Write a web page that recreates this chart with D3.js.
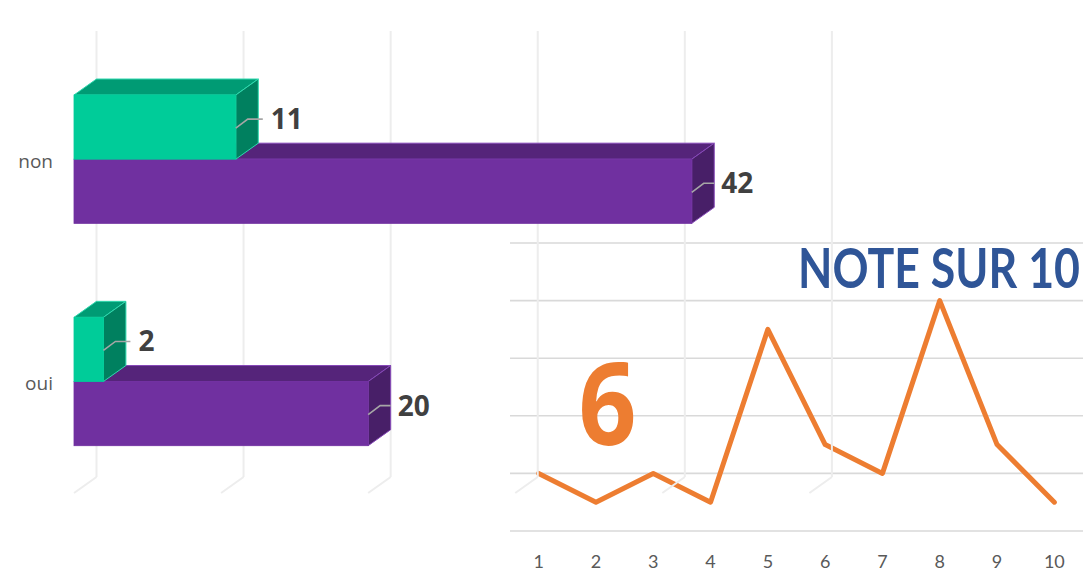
<!DOCTYPE html>
<html><head><meta charset="utf-8">
<script src="https://cdn.jsdelivr.net/npm/d3@7"></script>
<style>html,body{margin:0;padding:0;background:#fff;} svg{display:block;}</style>
</head><body>
<svg id="chart" width="1088" height="571"></svg>
<script>
// ---- bar chart data ----
const categories = ["non", "oui"];
const seriesGreen = [11, 2];
const seriesPurple = [42, 20];
const barTicks = [0, 10, 20, 30, 40, 50];

// ---- line chart data ----
const notes = ["1", "2", "3", "4", "5", "6", "7", "8", "9", "10"];
const counts = [2, 1, 2, 1, 7, 3, 2, 8, 3, 1];
const lineTicks = [0, 2, 4, 6, 8, 10];
const lineTitle = "NOTE SUR 10";

const svg = d3.select("#chart");
svg.append("rect").attr("width", 1088).attr("height", 571).attr("fill", "#ffffff");

// ================= LINE CHART =================
const lx = d3.scaleBand().domain(notes).range([510, 1083]);
const ly = d3.scaleLinear().domain([0, 10]).range([531, 243]);
const lg = svg.append("g");

lg.selectAll("line.hgrid").data(lineTicks).join("line")
  .attr("class", "hgrid")
  .attr("x1", 510).attr("x2", 1083)
  .attr("y1", d => ly(d)).attr("y2", d => ly(d))
  .attr("stroke", "#d9d9d9").attr("stroke-width", 1.6);

const xAxis = lg.append("g").attr("transform", "translate(0,531)")
  .call(d3.axisBottom(lx).tickSize(0).tickPadding(24));
xAxis.select(".domain").remove();
xAxis.selectAll("text")
  .attr("font-family", "Lato, 'Open Sans', sans-serif")
  .attr("font-size", 18).attr("fill", "#595959");

// mean note
const meanNote = Math.round(d3.sum(counts, (c, i) => c * (+notes[i])) / d3.sum(counts));
lg.append("text")
  .attr("x", 607.5).attr("y", 445)
  .attr("text-anchor", "middle")
  .attr("font-family", "'Open Sans', sans-serif")
  .attr("font-weight", "bold")
  .attr("font-size", 115)
  .attr("textLength", 58).attr("lengthAdjust", "spacingAndGlyphs")
  .attr("fill", "#ED7D31")
  .text(meanNote);

const titleG = lg.append("g");
const titleT = titleG.append("text")
  .attr("x", 0).attr("y", 0)
  .attr("text-anchor", "end")
  .attr("font-family", "Lato, 'Open Sans', sans-serif")
  .attr("font-weight", "bold")
  .attr("font-size", 55)
  .attr("fill", "#2F5597")
  .text(lineTitle);
const natural = titleT.node().getComputedTextLength() || 282;
titleG.attr("transform", `translate(1080,288) scale(${Math.min(1, 282 / natural)},1)`);

const lineGen = d3.line()
  .x((d, i) => lx(notes[i]) + lx.bandwidth() / 2)
  .y(d => ly(d));
lg.append("path").datum(counts)
  .attr("d", lineGen)
  .attr("fill", "none")
  .attr("stroke", "#ED7D31")
  .attr("stroke-width", 5)
  .attr("stroke-linejoin", "round")
  .attr("stroke-linecap", "round");

// ================= 3D BAR CHART =================
const DX = 22.5, DY = -16;
const bx = d3.scaleLinear().domain([0, 50]).range([74, 809.4]);
const by = d3.scaleBand().domain(categories).range([95, 445.7]).paddingInner(0.4227);
const sub = d3.scaleBand().domain(["green", "purple"]).range([0, by.bandwidth()]);

const bg = svg.append("g");
const floorFront = 493, floorBack = floorFront + DY;

// gridlines (back wall + floor)
bg.selectAll("line.vgrid").data(barTicks).join("line")
  .attr("class", "vgrid")
  .attr("x1", d => bx(d) + DX).attr("x2", d => bx(d) + DX)
  .attr("y1", 31).attr("y2", floorBack)
  .attr("stroke", "#ededed").attr("stroke-width", 2);
bg.selectAll("line.fgrid").data(barTicks).join("line")
  .attr("class", "fgrid")
  .attr("x1", d => bx(d)).attr("x2", d => bx(d) + DX)
  .attr("y1", floorFront).attr("y2", floorBack)
  .attr("stroke", "#ededed").attr("stroke-width", 2);

// category labels
bg.selectAll("text.cat").data(categories).join("text")
  .attr("class", "cat")
  .attr("x", 53).attr("y", d => by(d) + by.bandwidth() / 2 + 8.5)
  .attr("text-anchor", "end")
  .attr("font-family", "'Open Sans', sans-serif")
  .attr("font-size", 19).attr("fill", "#595959")
  .text(d => d);

const palettes = {
  green: { front: "#00CC99", top: "#009B74", side: "#00805F", edge: "#2FD9AE", lead: 27, gap: 8 },
  purple: { front: "#7030A0", top: "#55247A", side: "#481F68", edge: "#8648B8", lead: 22.5, gap: 7 }
};

function drawBox(g, x0, x1, y0, y1, p) {
  g.append("polygon")
    .attr("points", [[x0, y0], [x1, y0], [x1 + DX, y0 + DY], [x0 + DX, y0 + DY]].join(" "))
    .attr("fill", p.top).attr("stroke", p.edge).attr("stroke-width", 1).attr("stroke-linejoin", "round");
  g.append("polygon")
    .attr("points", [[x1, y0], [x1 + DX, y0 + DY], [x1 + DX, y1 + DY], [x1, y1]].join(" "))
    .attr("fill", p.side).attr("stroke", p.edge).attr("stroke-width", 1).attr("stroke-linejoin", "round");
  g.append("rect")
    .attr("x", x0).attr("y", y0).attr("width", x1 - x0).attr("height", y1 - y0)
    .attr("fill", p.front).attr("stroke", p.front).attr("stroke-width", 0.8);
}

function drawLabel(g, x1, yc, v, p) {
  const ly2 = yc - 8;
  g.append("polyline")
    .attr("points", [[x1, yc + 1], [x1 + 12, ly2], [x1 + p.lead, ly2]].join(" "))
    .attr("fill", "none").attr("stroke", "#a6a6a6").attr("stroke-width", 1.6);
  g.append("text")
    .attr("x", x1 + p.lead + p.gap).attr("y", ly2 + 0.357 * 28)
    .attr("font-family", "'Open Sans', sans-serif")
    .attr("font-weight", "bold").attr("font-size", 28)
    .attr("fill", "#404040")
    .text(v);
}

categories.forEach((c, i) => {
  const g = bg.append("g");
  const series = [
    { key: "purple", v: seriesPurple[i] },
    { key: "green", v: seriesGreen[i] }
  ];
  series.forEach(s => {
    const y0 = by(c) + sub(s.key);
    const y1 = y0 + sub.bandwidth();
    drawBox(g, bx(0), bx(s.v), y0, y1, palettes[s.key]);
  });
  series.forEach(s => {
    const y0 = by(c) + sub(s.key);
    drawLabel(g, bx(s.v), y0 + sub.bandwidth() / 2, s.v, palettes[s.key]);
  });
});
</script>
</body></html>
